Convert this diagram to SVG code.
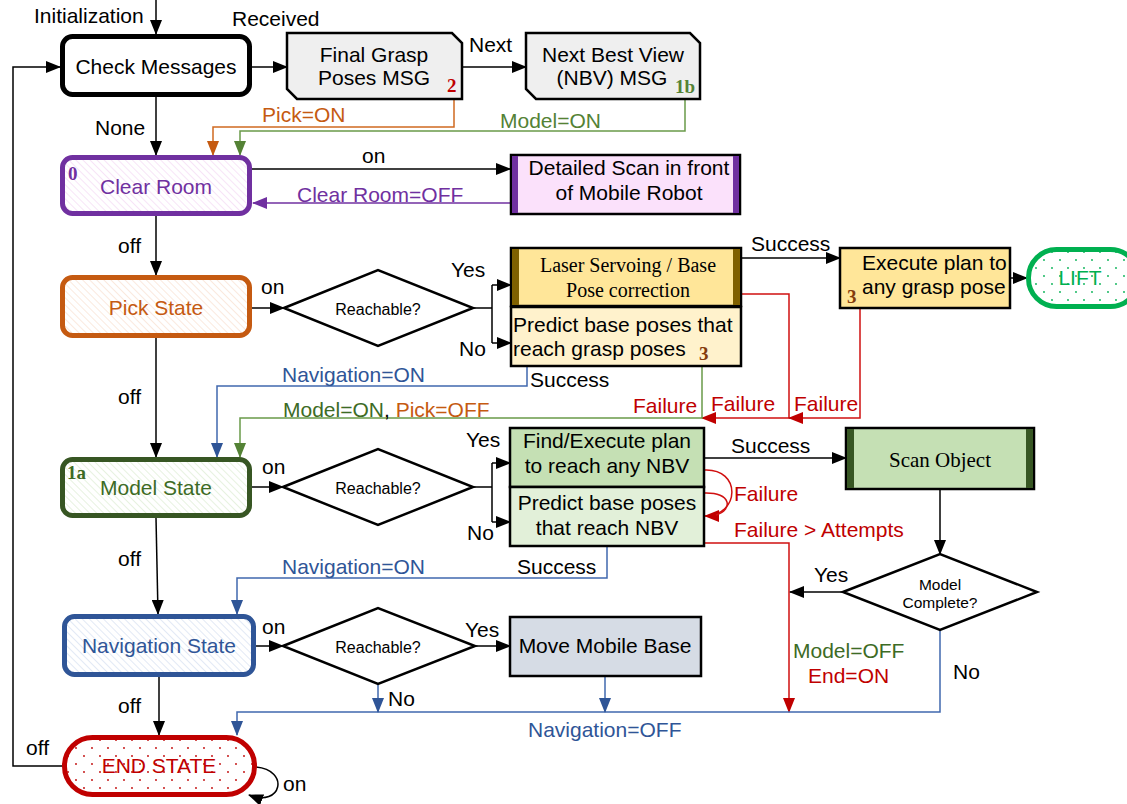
<svg xmlns="http://www.w3.org/2000/svg" width="1127" height="804" viewBox="0 0 1127 804">
<style>
text{font-family:"Liberation Sans",Arial,sans-serif;font-size:21px;fill:#000}
.serif{font-family:"Liberation Serif","Times New Roman",serif}
.num{font-family:"Liberation Serif","Times New Roman",serif;font-weight:bold;font-size:19px}
.small{font-size:16px}
.mid{text-anchor:middle}
.box{stroke:#000;stroke-width:2.5}
.state{stroke-width:5}
.c{fill:none;stroke:#000;stroke-width:1.5}
.cb{fill:none;stroke:#4068ae;stroke-width:1.5}
.cr{fill:none;stroke:#d01010;stroke-width:1.5}
.cg{fill:none;stroke:#6a9a4a;stroke-width:1.5}
.co{fill:none;stroke:#d06a20;stroke-width:1.5}
.cp{fill:none;stroke:#7030a0;stroke-width:1.5}
.purple{fill:#7030a0}.orange{fill:#c55a11}.dgreen{fill:#3d6b25}.lgreen{fill:#548235}.blue{fill:#2f5597}.red{fill:#c00000}.brown{fill:#843c0c}
</style>
<defs>
<marker id="aK" markerUnits="userSpaceOnUse" markerWidth="15" markerHeight="12" refX="14" refY="6" orient="auto"><path d="M0,0 L15,6 L0,12 z" fill="#000"/></marker>
<marker id="aB" markerUnits="userSpaceOnUse" markerWidth="15" markerHeight="12" refX="14" refY="6" orient="auto"><path d="M0,0 L15,6 L0,12 z" fill="#2f5597"/></marker>
<marker id="aR" markerUnits="userSpaceOnUse" markerWidth="15" markerHeight="12" refX="14" refY="6" orient="auto"><path d="M0,0 L15,6 L0,12 z" fill="#c00000"/></marker>
<marker id="aG" markerUnits="userSpaceOnUse" markerWidth="15" markerHeight="12" refX="14" refY="6" orient="auto"><path d="M0,0 L15,6 L0,12 z" fill="#548235"/></marker>
<marker id="aO" markerUnits="userSpaceOnUse" markerWidth="15" markerHeight="12" refX="14" refY="6" orient="auto"><path d="M0,0 L15,6 L0,12 z" fill="#c55a11"/></marker>
<marker id="aP" markerUnits="userSpaceOnUse" markerWidth="15" markerHeight="12" refX="14" refY="6" orient="auto"><path d="M0,0 L15,6 L0,12 z" fill="#7030a0"/></marker>
<pattern id="hP" width="5" height="5" patternUnits="userSpaceOnUse" patternTransform="rotate(-45)"><rect width="5" height="5" fill="#fff"/><line x1="0" y1="0" x2="0" y2="5" stroke="#f5dcf5" stroke-width="1.5"/></pattern>
<pattern id="hO" width="5" height="5" patternUnits="userSpaceOnUse" patternTransform="rotate(-45)"><rect width="5" height="5" fill="#fff"/><line x1="0" y1="0" x2="0" y2="5" stroke="#f9e2d4" stroke-width="1.5"/></pattern>
<pattern id="hG" width="5" height="5" patternUnits="userSpaceOnUse" patternTransform="rotate(-45)"><rect width="5" height="5" fill="#fff"/><line x1="0" y1="0" x2="0" y2="5" stroke="#e0eed6" stroke-width="1.5"/></pattern>
<pattern id="hB" width="5" height="5" patternUnits="userSpaceOnUse" patternTransform="rotate(-45)"><rect width="5" height="5" fill="#fff"/><line x1="0" y1="0" x2="0" y2="5" stroke="#d9e2f2" stroke-width="1.5"/></pattern>
<pattern id="dG" width="16" height="16" patternUnits="userSpaceOnUse"><rect width="16" height="16" fill="#fff"/><circle cx="4" cy="4" r="0.9" fill="#00b050"/><circle cx="12" cy="12" r="0.9" fill="#00b050"/></pattern>
<pattern id="dR" width="16" height="16" patternUnits="userSpaceOnUse"><rect width="16" height="16" fill="#fff"/><circle cx="4" cy="4" r="0.9" fill="#c00000"/><circle cx="12" cy="12" r="0.9" fill="#c00000"/></pattern>
</defs>

<g id="connectors">
<path class="c" d="M156,0 V34" marker-end="url(#aK)"/>
<path class="c" d="M252,67 H287" marker-end="url(#aK)"/>
<path class="c" d="M462,67 H526" marker-end="url(#aK)"/>
<path class="c" d="M156,97 V155" marker-end="url(#aK)"/>
<path class="co" d="M454,99 V127 H213 V155" marker-end="url(#aO)"/>
<path class="cg" d="M685,99 V131 H240 V155" marker-end="url(#aG)"/>
<path class="c" d="M252,169 H510" marker-end="url(#aK)"/>
<path class="cp" d="M510,203 H253" marker-end="url(#aP)"/>
<path class="c" d="M156,216 V275" marker-end="url(#aK)"/>
<path class="c" d="M252,308 H284" marker-end="url(#aK)"/>
<path class="c" d="M473,308 H492 M492,285 V343"/>
<path class="c" d="M492,285 H511" marker-end="url(#aK)"/>
<path class="c" d="M492,343 H511" marker-end="url(#aK)"/>
<path class="c" d="M741,258 H840" marker-end="url(#aK)"/>
<path class="c" d="M1010,278 H1027" marker-end="url(#aK)"/>
<path class="cr" d="M741,294 H789 V418 H702" marker-end="url(#aR)"/>
<path class="cr" d="M860,308 V418 H789" marker-end="url(#aR)"/>
<path class="cg" d="M702,366 V418 H240 V457" marker-end="url(#aG)"/>
<path class="cb" d="M527,366 V386 H217 V457" marker-end="url(#aB)"/>
<path class="c" d="M156,338 V457" marker-end="url(#aK)"/>
<path class="c" d="M252,487 H283" marker-end="url(#aK)"/>
<path class="c" d="M473,487 H492 M492,463 V522"/>
<path class="c" d="M492,463 H510" marker-end="url(#aK)"/>
<path class="c" d="M492,522 H510" marker-end="url(#aK)"/>
<path class="c" d="M704,458 H846" marker-end="url(#aK)"/>
<path class="cr" d="M704,470 C742,468 740,516 705,516" marker-end="url(#aR)"/>
<path class="cr" d="M704,493 C732,492 733,510 716,515"/>
<path class="cr" d="M704,543 H789 V712" marker-end="url(#aR)"/>
<path class="c" d="M940,489 V554" marker-end="url(#aK)"/>
<path class="c" d="M843,592 H790" marker-end="url(#aK)"/>
<path class="cb" d="M940,630 V712 H237 V735" marker-end="url(#aB)"/>
<path class="cb" d="M607,546 V578 H237 V614" marker-end="url(#aB)"/>
<path class="c" d="M156,518 L158,614" marker-end="url(#aK)"/>
<path class="c" d="M256,646 H283" marker-end="url(#aK)"/>
<path class="c" d="M475,646 H510" marker-end="url(#aK)"/>
<path class="cb" d="M378,684 V712" marker-end="url(#aB)"/>
<path class="cb" d="M605,676 V712" marker-end="url(#aB)"/>
<path class="c" d="M159,677 V735" marker-end="url(#aK)"/>
<path class="c" d="M256,767 C290,770 282,808 249,795" marker-end="url(#aK)"/>
<path class="c" d="M62,766 H13 V67 H60" marker-end="url(#aK)"/>
</g>

<g id="labels">
<text x="34" y="23">Initialization</text>
<text x="232" y="26">Received</text>
<text x="469" y="52">Next</text>
<text x="262" y="122" class="orange">Pick=ON</text>
<text x="500" y="128" class="lgreen">Model=ON</text>
<text x="95" y="135">None</text>
<text x="362" y="163">on</text>
<text x="297" y="202" class="purple">Clear Room=OFF</text>
<text x="118" y="253">off</text>
<text x="261" y="294">on</text>
<text x="451" y="277">Yes</text>
<text x="459" y="356">No</text>
<text x="751" y="251">Success</text>
<text x="633" y="413" class="red">Failure</text>
<text x="711" y="411" class="red">Failure</text>
<text x="794" y="411" class="red">Failure</text>
<text x="282" y="382" class="blue">Navigation=ON</text>
<text x="530" y="387">Success</text>
<text x="283" y="417"><tspan class="dgreen">Model=ON</tspan>, <tspan class="orange">Pick=OFF</tspan></text>
<text x="118" y="404">off</text>
<text x="262" y="474">on</text>
<text x="466" y="447">Yes</text>
<text x="467" y="540">No</text>
<text x="731" y="453">Success</text>
<text x="734" y="501" class="red">Failure</text>
<text x="734" y="537" class="red">Failure &gt; Attempts</text>
<text x="814" y="582">Yes</text>
<text x="953" y="679">No</text>
<text x="118" y="566">off</text>
<text x="282" y="574" class="blue">Navigation=ON</text>
<text x="517" y="574">Success</text>
<text x="262" y="634">on</text>
<text x="465" y="637">Yes</text>
<text x="388" y="706">No</text>
<text x="118" y="713">off</text>
<text x="793" y="658" class="dgreen">Model=OFF</text>
<text x="808" y="683" class="red">End=ON</text>
<text x="528" y="737" class="blue">Navigation=OFF</text>
<text x="26" y="755">off</text>
<text x="283" y="791">on</text>
</g>

<g id="check-messages">
<rect x="62.5" y="36.5" width="187" height="58" rx="10" fill="#fff" stroke="#000" class="state"/>
<text x="156" y="74" class="mid">Check Messages</text>
</g>

<g id="final-grasp">
<polygon points="287,33 452,33 462,43 462,99 297,99 287,89" fill="#efefef" class="box"/>
<text x="374" y="62" class="mid">Final Grasp</text>
<text x="374" y="85" class="mid">Poses MSG</text>
<text x="447" y="92" class="num red">2</text>
</g>

<g id="nbv-msg">
<polygon points="526,33 690,33 700,43 700,99 536,99 526,89" fill="#efefef" class="box"/>
<text x="613" y="62" class="mid">Next Best View</text>
<text x="612" y="85" class="mid">(NBV) MSG</text>
<text x="675" y="93" class="num lgreen">1b</text>
</g>

<g id="clear-room">
<rect x="62.5" y="157.5" width="187" height="56" rx="10" fill="url(#hP)" stroke="#7030a0" class="state"/>
<text x="156" y="194" class="mid purple">Clear Room</text>
<text x="68" y="180" class="num purple">0</text>
</g>

<g id="detailed-scan">
<rect x="511" y="155" width="229" height="59" fill="#fbe1fb" class="box"/>
<rect x="512" y="156" width="6" height="57" fill="#7030a0"/>
<rect x="733" y="156" width="6" height="57" fill="#7030a0"/>
<text x="629" y="175" class="mid">Detailed Scan in front</text>
<text x="629" y="200" class="mid">of Mobile Robot</text>
</g>

<g id="pick-state">
<rect x="62.5" y="277.5" width="187" height="58" rx="10" fill="url(#hO)" stroke="#c55a11" class="state"/>
<text x="156" y="315" class="mid orange">Pick State</text>
</g>

<g id="pick-reachable">
<polygon points="284,308 378,270 473,308 378,346" fill="#fff" class="box"/>
<text x="378" y="315" class="mid small">Reachable?</text>
</g>

<g id="laser-servoing">
<rect x="511" y="248" width="230" height="58" fill="#ffe699" class="box"/>
<rect x="512" y="249" width="7" height="56" fill="#7f6000"/>
<rect x="733" y="249" width="7" height="56" fill="#7f6000"/>
<text x="628" y="272" class="mid serif" style="font-size:20px">Laser Servoing / Base</text>
<text x="628" y="297" class="mid serif" style="font-size:20px">Pose correction</text>
</g>

<g id="predict-grasp">
<rect x="511" y="307" width="230" height="59" fill="#fff2cc" class="box"/>
<text x="513" y="332">Predict base poses that</text>
<text x="513" y="356">reach grasp poses</text>
<text x="699" y="360" class="num brown">3</text>
</g>

<g id="execute-plan">
<rect x="840" y="248" width="170" height="60" fill="#ffe699" class="box"/>
<text x="862" y="270">Execute plan to</text>
<text x="862" y="294">any grasp pose</text>
<text x="847" y="303" class="num brown">3</text>
</g>

<g id="lift">
<rect x="1028.5" y="249.5" width="110" height="57" rx="28" fill="url(#dG)" stroke="#00b050" class="state"/>
<text x="1080" y="285" class="mid" style="fill:#00b050">LIFT</text>
</g>

<g id="model-state">
<rect x="62.5" y="459.5" width="187" height="56" rx="10" fill="url(#hG)" stroke="#375623" class="state"/>
<text x="156" y="495" class="mid dgreen">Model State</text>
<text x="67" y="479" class="num dgreen">1a</text>
</g>

<g id="model-reachable">
<polygon points="283,487 378,449 473,487 378,525" fill="#fff" class="box"/>
<text x="378" y="494" class="mid small">Reachable?</text>
</g>

<g id="find-execute">
<rect x="510" y="428" width="194" height="59" fill="#c5e0b4" class="box"/>
<text x="607" y="448" class="mid">Find/Execute plan</text>
<text x="607" y="473" class="mid">to reach any NBV</text>
</g>

<g id="predict-nbv">
<rect x="510" y="487" width="194" height="59" fill="#e2f0d9" class="box"/>
<text x="607" y="510" class="mid">Predict base poses</text>
<text x="607" y="535" class="mid">that reach NBV</text>
</g>

<g id="scan-object">
<rect x="846" y="428" width="188" height="61" fill="#c5e0b4" class="box"/>
<rect x="847" y="429" width="7" height="59" fill="#375623"/>
<rect x="1026" y="429" width="7" height="59" fill="#375623"/>
<text x="940" y="467" class="mid serif" style="font-size:21px">Scan Object</text>
</g>

<g id="model-complete">
<polygon points="843,592 940,554 1037,592 940,630" fill="#fff" class="box"/>
<text x="940" y="590" class="mid" style="font-size:15.5px">Model</text>
<text x="940" y="608" class="mid" style="font-size:15.5px">Complete?</text>
</g>

<g id="navigation-state">
<rect x="64.5" y="616.5" width="189" height="58" rx="10" fill="url(#hB)" stroke="#2f5597" class="state"/>
<text x="159" y="653" class="mid blue">Navigation State</text>
</g>

<g id="nav-reachable">
<polygon points="283,646 378,608 475,646 378,684" fill="#fff" class="box"/>
<text x="378" y="653" class="mid small">Reachable?</text>
</g>

<g id="move-base">
<rect x="510" y="617" width="191" height="59" fill="#d6dce5" class="box"/>
<text x="605" y="653" class="mid">Move Mobile Base</text>
</g>

<g id="end-state">
<rect x="64.5" y="737.5" width="190" height="57" rx="28" fill="url(#dR)" stroke="#c00000" class="state"/>
<text x="159" y="773" class="mid red">END STATE</text>
</g>
</svg>
